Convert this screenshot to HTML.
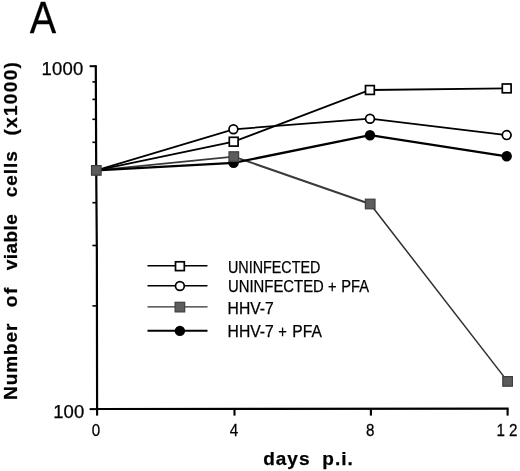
<!DOCTYPE html>
<html><head><meta charset="utf-8"><title>A</title>
<style>
html,body{margin:0;padding:0;background:#fff;}
svg{display:block;}
text{font-family:"Liberation Sans",Arial,sans-serif;fill:#000;stroke:#000;stroke-width:0.25;}
</style></head><body>
<svg width="520" height="471" viewBox="0 0 520 471">
<rect width="520" height="471" fill="#fff"/>

<polyline points="95.8,65.3 96.2,170 96.85,250 97.1,410.1" fill="none" stroke="#000" stroke-width="2.2"/>
<line x1="96.1" y1="409.0" x2="508.65" y2="408.6" stroke="#000" stroke-width="2.2"/>
<line x1="92.4" x2="97.01" y1="305.9" y2="305.9" stroke="#000" stroke-width="1.6"/>
<line x1="92.4" x2="96.78" y1="245.5" y2="245.5" stroke="#000" stroke-width="1.6"/>
<line x1="92.4" x2="96.62" y1="202.7" y2="202.7" stroke="#000" stroke-width="1.6"/>
<line x1="92.4" x2="96.49" y1="169.4" y2="169.4" stroke="#000" stroke-width="1.6"/>
<line x1="92.4" x2="96.39" y1="142.3" y2="142.3" stroke="#000" stroke-width="1.6"/>
<line x1="92.4" x2="96.30" y1="119.3" y2="119.3" stroke="#000" stroke-width="1.6"/>
<line x1="92.4" x2="96.23" y1="99.4" y2="99.4" stroke="#000" stroke-width="1.6"/>
<line x1="92.4" x2="96.16" y1="81.9" y2="81.9" stroke="#000" stroke-width="1.6"/>
<line x1="89.6" x2="97.40" y1="409.1" y2="409.1" stroke="#000" stroke-width="2"/>
<line x1="89.6" x2="96.10" y1="66.2" y2="66.2" stroke="#000" stroke-width="2"/>
<line x1="97.1" x2="97.1" y1="409.1" y2="415.6" stroke="#000" stroke-width="2.1"/>
<line x1="234.5" x2="234.5" y1="409.1" y2="415.6" stroke="#000" stroke-width="2.1"/>
<line x1="370.9" x2="370.9" y1="409.1" y2="415.6" stroke="#000" stroke-width="2.1"/>
<line x1="507.6" x2="507.6" y1="409.1" y2="415.6" stroke="#000" stroke-width="2.1"/>
<polyline points="96.3,170.4 233.8,156.6 370.2,204.0" fill="none" stroke="#3a3a3a" stroke-width="1.9"/>
<polyline points="370.2,204.0 507.6,381.4" fill="none" stroke="#2e2e2e" stroke-width="1.5"/>
<polyline points="96.3,170.4 233.6,162.9 370.0,135.2 506.7,156.3" fill="none" stroke="#000" stroke-width="2.3"/>
<polyline points="96.3,170.4 233.4,129.3 370.0,118.7 506.7,135.1" fill="none" stroke="#000" stroke-width="1.8"/>
<polyline points="96.3,170.4 233.7,141.7 369.9,90.0 506.7,88.4" fill="none" stroke="#000" stroke-width="1.8"/>
<circle cx="233.6" cy="162.9" r="5.2" fill="#000"/>
<circle cx="370.0" cy="135.2" r="5.2" fill="#000"/>
<circle cx="506.7" cy="156.3" r="5.2" fill="#000"/>
<circle cx="233.4" cy="129.3" r="4.4" fill="#fff" stroke="#000" stroke-width="1.7"/>
<circle cx="370.0" cy="118.7" r="4.4" fill="#fff" stroke="#000" stroke-width="1.7"/>
<circle cx="506.7" cy="135.1" r="4.4" fill="#fff" stroke="#000" stroke-width="1.7"/>
<rect x="229.30" y="137.30" width="8.8" height="8.8" fill="#fff" stroke="#000" stroke-width="1.7"/>
<rect x="365.50" y="85.60" width="8.8" height="8.8" fill="#fff" stroke="#000" stroke-width="1.7"/>
<rect x="502.30" y="84.00" width="8.8" height="8.8" fill="#fff" stroke="#000" stroke-width="1.7"/>
<rect x="91.50" y="165.60" width="9.6" height="9.6" fill="#5c5c5c" stroke="#3e3e3e" stroke-width="1.2"/>
<rect x="229.00" y="151.80" width="9.6" height="9.6" fill="#5c5c5c" stroke="#3e3e3e" stroke-width="1.2"/>
<rect x="365.40" y="199.20" width="9.6" height="9.6" fill="#5c5c5c" stroke="#3e3e3e" stroke-width="1.2"/>
<rect x="502.80" y="376.60" width="9.6" height="9.6" fill="#5c5c5c" stroke="#3e3e3e" stroke-width="1.2"/>
<line x1="147.5" x2="207.5" y1="265.8" y2="265.8" stroke="#000" stroke-width="1.5"/>
<rect x="175.50" y="261.80" width="8.8" height="8.8" fill="#fff" stroke="#000" stroke-width="1.7"/>
<text x="228.0" y="273.0" font-size="16.3" textLength="92.4" lengthAdjust="spacingAndGlyphs">UNINFECTED</text>
<line x1="147.5" x2="207.5" y1="285.8" y2="285.8" stroke="#000" stroke-width="1.5"/>
<circle cx="179.9" cy="286.0" r="4.4" fill="#fff" stroke="#000" stroke-width="1.7"/>
<text x="228.0" y="292.1" font-size="16.3" textLength="95.8" lengthAdjust="spacingAndGlyphs">UNINFECTED</text>
<text x="327.9" y="292.1" font-size="16.3" textLength="8.6" lengthAdjust="spacingAndGlyphs">+</text>
<text x="341.2" y="292.1" font-size="16.3" textLength="27.8" lengthAdjust="spacingAndGlyphs">PFA</text>
<line x1="147.5" x2="207.5" y1="306.9" y2="306.9" stroke="#2e2e2e" stroke-width="1.3"/>
<rect x="175.10" y="302.30" width="9.6" height="9.6" fill="#5c5c5c" stroke="#3e3e3e" stroke-width="1.2"/>
<text x="227.6" y="313.5" font-size="16.3" textLength="46.2" lengthAdjust="spacingAndGlyphs">HHV-7</text>
<line x1="147.5" x2="207.5" y1="330.7" y2="330.7" stroke="#000" stroke-width="1.9"/>
<circle cx="179.9" cy="330.9" r="5.2" fill="#000"/>
<text x="227.6" y="337.2" font-size="16.3" textLength="46.2" lengthAdjust="spacingAndGlyphs">HHV-7</text>
<text x="278.2" y="337.2" font-size="16.3" textLength="8.6" lengthAdjust="spacingAndGlyphs">+</text>
<text x="292.3" y="337.2" font-size="16.3" textLength="29.5" lengthAdjust="spacingAndGlyphs">PFA</text>
<text transform="translate(29.7,32.7) scale(0.89,1)" font-size="44.5" stroke-width="0.5">A</text>
<text x="83.5" y="74.8" font-size="18.5" text-anchor="end" letter-spacing="0.2">1000</text>
<text x="84.6" y="417.5" font-size="18.5" text-anchor="end" letter-spacing="0.2">100</text>
<text transform="translate(96,436.2) scale(0.945,1)" font-size="16" text-anchor="middle">0</text>
<text transform="translate(233.9,435.9) scale(0.945,1)" font-size="16" text-anchor="middle">4</text>
<text transform="translate(370.2,435.9) scale(0.945,1)" font-size="16" text-anchor="middle">8</text>
<text transform="translate(500.6,435.9) scale(0.945,1)" font-size="16" text-anchor="middle">1</text>
<text transform="translate(513.3,435.9) scale(0.945,1)" font-size="16" text-anchor="middle">2</text>
<text x="263.2" y="464.5" font-size="19" font-weight="bold" stroke-width="0.2" textLength="46.3">days</text>
<text x="322.3" y="464.5" font-size="19" font-weight="bold" stroke-width="0.2" textLength="30.5">p.i.</text>
<text transform="translate(17.3,400) rotate(-90)" font-size="19" font-weight="bold" stroke-width="0.2" textLength="76.5">Number</text>
<text transform="translate(17.3,307.2) rotate(-90)" font-size="19" font-weight="bold" stroke-width="0.2" textLength="19.6">of</text>
<text transform="translate(17.3,270.2) rotate(-90)" font-size="19" font-weight="bold" stroke-width="0.2" textLength="56">viable</text>
<text transform="translate(17.3,197.2) rotate(-90)" font-size="19" font-weight="bold" stroke-width="0.2" textLength="46">cells</text>
<text transform="translate(17.3,135.6) rotate(-90)" font-size="19" font-weight="bold" stroke-width="0.2" textLength="73.5">(x1000)</text>
</svg></body></html>
